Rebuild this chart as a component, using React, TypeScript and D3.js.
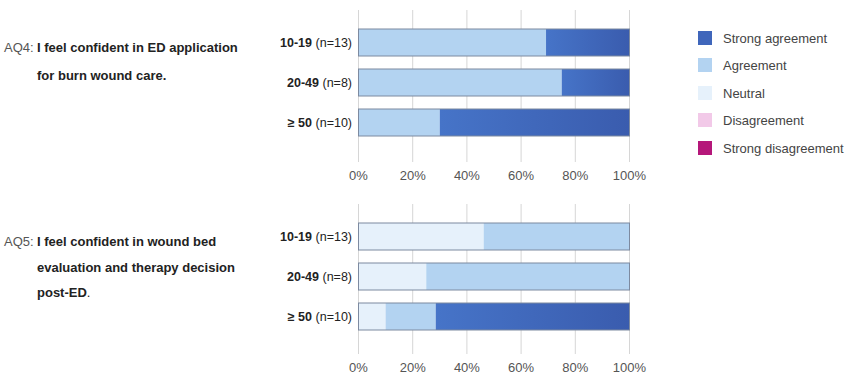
import React from "react";
import * as d3 from "d3";

const groups = ["10-19", "20-49", "≥ 50"];
const groupN = ["(n=13)", "(n=8)", "(n=10)"];
const levels = ["Strong disagreement", "Disagreement", "Neutral", "Agreement", "Strong agreement"];
const legendOrder = ["Strong agreement", "Agreement", "Neutral", "Disagreement", "Strong disagreement"];
const levelColors = ["#b5177a", "#f2c9e8", "#e6f1fb", "#b3d3f1", "#3f66bb"];

// percentages per level (strong disagreement .. strong agreement), per group
const aq4Values = [
  [0, 0, 0, 69.2, 30.8],
  [0, 0, 0, 75, 25],
  [0, 0, 0, 30, 70],
];
const aq5Values = [
  [0, 0, 46.2, 53.8, 0],
  [0, 0, 25, 75, 0],
  [0, 0, 10, 18.5, 71.5],
];
const ticks = [0, 20, 40, 60, 80, 100];

const questions = [
  { code: "AQ4:", lines: ["I feel confident in ED application", "for burn wound care."], values: aq4Values },
  { code: "AQ5:", lines: ["I feel confident in wound bed", "evaluation and therapy decision", "post-ED"], values: aq5Values },
];

const FONT = "'Liberation Sans', Arial, sans-serif";

export default function App() {
  const x = d3.scaleLinear().domain([0, 100]).range([358.5, 629.5]);
  const panelTops = [22.5, 216.5];
  const gridTops = [10, 204];
  const gridBottoms = [162, 354];
  const stack = d3.stack<number[]>().keys(levels.map((_, i) => String(i))).value((d, k) => d[+k]);

  return (
    <svg width={850} height={378} style={{ position: "absolute", left: 0, top: 0, background: "#fff" }} fontFamily={FONT}>
      <defs>
        <linearGradient id="sa" x1="0" x2="1" y1="0" y2="0">
          <stop offset="0" stopColor="#4674c8" />
          <stop offset="1" stopColor="#3a5cae" />
        </linearGradient>
      </defs>
      {questions.map((q, qi) => {
        const y = d3
          .scaleBand<string>()
          .domain(groups)
          .range([panelTops[qi], panelTops[qi] + 120])
          .paddingInner(0.325)
          .paddingOuter(0.1625);
        const series = stack(q.values as any);
        const lineY0 = qi === 0 ? 52 : 246;
        const lineStep = qi === 0 ? 28 : 25.5;
        return (
          <g key={qi}>
            {ticks.map((t) => (
              <g key={t}>
                <line x1={x(t)} x2={x(t)} y1={gridTops[qi]} y2={gridBottoms[qi]} stroke="#d6d6d6" strokeWidth={1} />
                <text x={x(t)} y={gridBottoms[qi] + 18} textAnchor="middle" fontSize={13} fill="#555">
                  {t}%
                </text>
              </g>
            ))}
            {groups.map((g, gi) => (
              <g key={g}>
                {series.map((s, li) => {
                  const [a, b] = s[gi];
                  if (b - a <= 0) return null;
                  return (
                    <rect
                      key={li}
                      x={x(a)}
                      y={y(g)!}
                      width={x(b) - x(a)}
                      height={y.bandwidth()}
                      fill={li === 4 ? "url(#sa)" : levelColors[li]}
                    />
                  );
                })}
                <rect
                  x={x(0)}
                  y={y(g)!}
                  width={x(100) - x(0)}
                  height={y.bandwidth()}
                  fill="none"
                  stroke="#7d8aa0"
                  strokeWidth={1}
                />
                <text x={352} y={y(g)! + y.bandwidth() / 2 + 4.5} textAnchor="end" fontSize={12.5} fill="#222">
                  <tspan fontWeight="bold">{g}</tspan>
                  <tspan> {groupN[gi]}</tspan>
                </text>
              </g>
            ))}
            <text x={4} y={lineY0} fontSize={13} fill="#555">
              {q.code}
            </text>
            {q.lines.map((l, li) => (
              <text key={li} x={37} y={lineY0 + li * lineStep} fontSize={13} fill="#222" fontWeight="bold">
                {l}
                {qi === 1 && li === 2 ? <tspan fontWeight="normal">.</tspan> : null}
              </text>
            ))}
          </g>
        );
      })}
      {legendOrder.map((name, i) => {
        const ly = [38, 65, 93, 120, 148][i];
        const c = levelColors[levels.indexOf(name)];
        return (
          <g key={name}>
            <rect x={698} y={ly - 7} width={14} height={14} fill={c} />
            <text x={723} y={ly + 4.5} fontSize={13} fill="#444">
              {name}
            </text>
          </g>
        );
      })}
    </svg>
  );
}
